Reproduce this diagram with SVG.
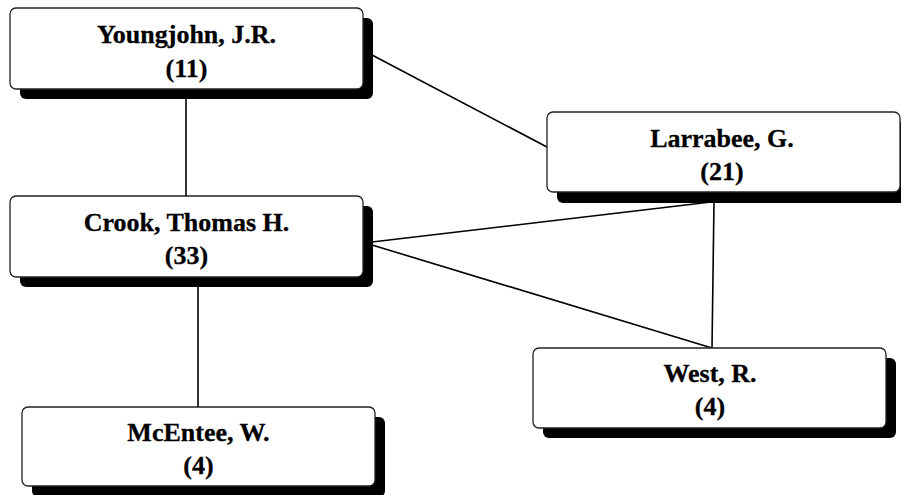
<svg xmlns="http://www.w3.org/2000/svg" width="901" height="495" viewBox="0 0 901 495">
<style>
.shadow{fill:#000}
.box{fill:#fff;stroke:#222;stroke-width:1.3}
.t{font-family:"Liberation Serif","Times New Roman",serif;font-weight:bold;font-size:26px;fill:#000;text-anchor:middle;stroke:#000;stroke-width:0.3}
.edge{stroke:#000;stroke-width:1.6;fill:none}
</style>
<rect width="901" height="495" fill="#fff"/>
<g id="connectors">
<line class="edge" x1="186" y1="98" x2="186" y2="196"/>
<line class="edge" x1="372" y1="55" x2="547" y2="147"/>
<line class="edge" x1="372" y1="242" x2="711" y2="202"/>
<line class="edge" x1="372" y1="245" x2="712" y2="348"/>
<line class="edge" x1="714" y1="202" x2="712" y2="348"/>
<line class="edge" x1="198" y1="287" x2="198" y2="407"/>
</g>
<g id="youngjohn">
<rect class="shadow" x="20" y="18" width="353" height="81" rx="6"/>
<rect class="box" x="10" y="8" width="353" height="81" rx="6"/>
<text class="t" x="186.5" y="43">Youngjohn, J.R.</text>
<text class="t" x="186.5" y="77">(11)</text>
</g>
<g id="crook">
<rect class="shadow" x="20" y="206" width="353" height="81" rx="6"/>
<rect class="box" x="10" y="196" width="353" height="81" rx="6"/>
<text class="t" x="186.5" y="231">Crook, Thomas H.</text>
<text class="t" x="186.5" y="264">(33)</text>
</g>
<g id="larrabee">
<rect class="shadow" x="557" y="122" width="353" height="81" rx="6"/>
<rect class="box" x="547" y="112" width="353" height="80" rx="6"/>
<text class="t" x="722" y="147">Larrabee, G.</text>
<text class="t" x="722" y="180">(21)</text>
</g>
<g id="west">
<rect class="shadow" x="543" y="358" width="353" height="80" rx="6"/>
<rect class="box" x="533" y="348" width="353" height="80" rx="6"/>
<text class="t" x="710" y="382">West, R.</text>
<text class="t" x="710" y="415">(4)</text>
</g>
<g id="mcentee">
<rect class="shadow" x="32" y="417" width="353" height="80" rx="6"/>
<rect class="box" x="22" y="407" width="353" height="79" rx="6"/>
<text class="t" x="198.5" y="441">McEntee, W.</text>
<text class="t" x="198.5" y="474">(4)</text>
</g>
</svg>
